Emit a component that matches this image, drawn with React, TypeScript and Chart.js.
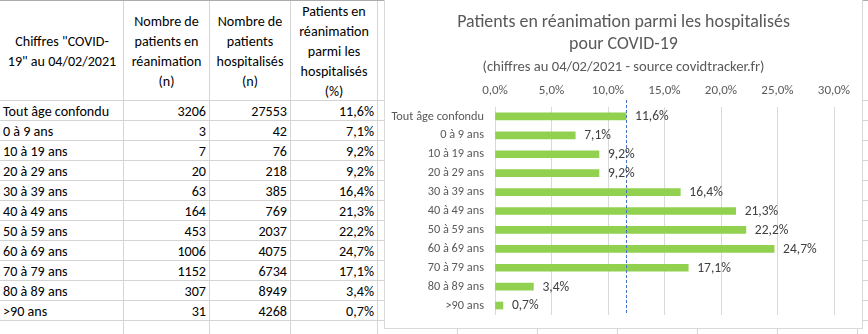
import React, { useEffect, useRef } from "react";
import { Chart, registerables } from "chart.js";

Chart.register(...registerables);

// ---------- data ----------
const categories = [
  "Tout âge confondu",
  "0 à 9 ans",
  "10 à 19 ans",
  "20 à 29 ans",
  "30 à 39 ans",
  "40 à 49 ans",
  "50 à 59 ans",
  "60 à 69 ans",
  "70 à 79 ans",
  "80 à 89 ans",
  ">90 ans",
];
const reanimation = [3206, 3, 7, 20, 63, 164, 453, 1006, 1152, 307, 31];
const hospitalises = [27553, 42, 76, 218, 385, 769, 2037, 4075, 6734, 8949, 4268];
const percentages = [11.6, 7.1, 9.2, 9.2, 16.4, 21.3, 22.2, 24.7, 17.1, 3.4, 0.7];
const overallPercentage = 11.6;
const xTickValues = [0, 5, 10, 15, 20, 25, 30];

const headerLines = [
  ['Chiffres "COVID-', '19" au 04/02/2021'],
  ["Nombre de", "patients en", "réanimation", "(n)"],
  ["Nombre de", "patients", "hospitalisés", "(n)"],
  ["Patients en", "réanimation", "parmi les", "hospitalisés", "(%)"],
];

const chartTitle = ["Patients en réanimation parmi les hospitalisés", "pour COVID-19"];
const chartSubtitle = "(chiffres au 04/02/2021 - source covidtracker.fr)";

// ---------- helpers ----------
const FONT = "Calibri, Carlito, Lato, 'Open Sans', sans-serif";
const fmtPct = (v: number) => v.toFixed(1).replace(".", ",") + "%";

const colEdges = [0, 123, 209, 290, 377];
const extraCols = [457, 537, 617, 697, 777, 857];
const HEADER_H = 100;
const ROW_H = 20;

function App() {
  const canvasRef = useRef<HTMLCanvasElement | null>(null);

  useEffect(() => {
    document.body.style.margin = "0";
    const canvas = canvasRef.current;
    if (!canvas) return;

    const valueLabels = {
      id: "valueLabels",
      afterDatasetsDraw(chart: any) {
        const ctx = chart.ctx;
        const meta = chart.getDatasetMeta(0);
        ctx.save();
        ctx.font = `13.5px ${FONT}`;
        ctx.fillStyle = "#404040";
        ctx.textAlign = "left";
        ctx.textBaseline = "middle";
        meta.data.forEach((bar: any, i: number) => {
          ctx.fillText(fmtPct(percentages[i]), bar.x + 9, bar.y + 0.5);
        });
        ctx.restore();
      },
    };

    const overallLine = {
      id: "overallLine",
      afterDatasetsDraw(chart: any) {
        const ctx = chart.ctx;
        const x = Math.round(chart.scales.x.getPixelForValue(overallPercentage)) + 0.5;
        const area = chart.chartArea;
        ctx.save();
        ctx.strokeStyle = "#4472c4";
        ctx.lineWidth = 1;
        ctx.setLineDash([3, 2]);
        ctx.beginPath();
        ctx.moveTo(x, area.top - 7);
        ctx.lineTo(x, area.bottom);
        ctx.stroke();
        ctx.restore();
      },
    };

    const chart = new Chart(canvas, {
      type: "bar",
      data: {
        labels: categories,
        datasets: [
          {
            data: percentages,
            backgroundColor: "#92d050",
            borderWidth: 0,
            barThickness: 7,
          },
        ],
      },
      options: {
        indexAxis: "y",
        responsive: false,
        animation: false,
        layout: { padding: { left: 0, right: 0, top: 0, bottom: 13 } },
        plugins: {
          legend: { display: false },
          tooltip: { enabled: false },
          title: {
            display: true,
            text: chartTitle,
            color: "#595959",
            font: { family: FONT, size: 17.9, weight: "normal", lineHeight: "22px" },
            padding: { top: 12, bottom: 0 },
          },
          subtitle: {
            display: true,
            text: chartSubtitle,
            color: "#595959",
            font: { family: FONT, size: 14.6, weight: "normal", lineHeight: "16px" },
            padding: { top: 3, bottom: 0 },
          },
        },
        scales: {
          x: {
            position: "top",
            min: 0,
            max: 30,
            afterBuildTicks(scale: any) {
              scale.ticks = xTickValues.map((v) => ({ value: v }));
            },
            ticks: {
              color: "#595959",
              font: { family: FONT, size: 13, lineHeight: "14px" },
              padding: 9,
              maxRotation: 0,
              callback: (v: any) => fmtPct(Number(v)),
            },
            grid: { color: "#d9d9d9", drawTicks: false },
            border: { display: false },
          },
          y: {
            afterFit(scale: any) {
              scale.width = 110;
              scale.paddingTop = 0;
              scale.paddingBottom = 0;
            },
            ticks: {
              color: "#595959",
              font: { family: FONT, size: 12.3 },
              padding: 11,
              autoSkip: false,
            },
            grid: { display: false, drawTicks: false },
            border: { display: false },
          },
          yRightSpace: {
            type: "category",
            position: "right",
            axis: "y",
            labels: categories,
            afterFit(scale: any) {
              scale.width = 28;
              scale.paddingTop = 0;
              scale.paddingBottom = 0;
            },
            ticks: { display: false },
            grid: { display: false, drawTicks: false },
            border: { display: false },
          },
        },
      },
      plugins: [overallLine, valueLabels],
    } as any);

    return () => chart.destroy();
  }, []);

  const cellText: React.CSSProperties = {
    position: "absolute",
    fontFamily: FONT,
    fontSize: "14.1px",
    color: "#000",
    lineHeight: "20px",
    whiteSpace: "nowrap",
  };

  const gridColor = "#d4d4d4";

  return (
    <div
      style={{
        position: "fixed",
        left: 0,
        top: 0,
        width: 868,
        height: 334,
        background: "#fff",
        overflow: "hidden",
      }}
    >
      {/* spreadsheet gridlines */}
      {[...colEdges.slice(1), ...extraCols].map((x) => (
        <div
          key={"v" + x}
          style={{ position: "absolute", left: x, top: 0, width: 1, height: 334, background: gridColor }}
        />
      ))}
      {Array.from({ length: categories.length + 2 }, (_, i) => HEADER_H + i * ROW_H).map((y) => (
        <div
          key={"h" + y}
          style={{ position: "absolute", left: 0, top: y, width: 868, height: 1, background: gridColor }}
        />
      ))}
      <div style={{ position: "absolute", left: 0, top: 0, width: 868, height: 1, background: "#ababab" }} />
      <div style={{ position: "absolute", left: 697, top: 0, width: 80, height: 1, background: "#217346" }} />

      {/* header */}
      {headerLines.map((lines, c) => (
        <div
          key={"hd" + c}
          style={{
            ...cellText,
            left: colEdges[c] + 1,
            top: 2,
            width: colEdges[c + 1] - colEdges[c] - 1,
            height: HEADER_H,
            display: "flex",
            flexDirection: "column",
            justifyContent: "center",
            alignItems: "center",
            textAlign: "center",
          }}
        >
          {lines.map((l, k) => (
            <div key={k}>{l}</div>
          ))}
        </div>
      ))}

      {/* rows */}
      {categories.map((cat, r) => {
        const top = HEADER_H + r * ROW_H + 2;
        const cells = [cat, String(reanimation[r]), String(hospitalises[r]), fmtPct(percentages[r])];
        return cells.map((txt, c) => (
          <div
            key={"c" + r + "-" + c}
            style={{
              ...cellText,
              left: colEdges[c] + (c === 0 ? 3 : 1),
              top,
              width: colEdges[c + 1] - colEdges[c] - (c === 0 ? 3 : 4),
              textAlign: c === 0 ? "left" : "right",
            }}
          >
            {txt}
          </div>
        ));
      })}

      {/* chart box */}
      <div
        style={{
          position: "absolute",
          left: 384,
          top: -1,
          width: 477,
          height: 328,
          border: "1px solid #d9d9d9",
          background: "#fff",
        }}
      />
      <canvas
        ref={canvasRef}
        width={477}
        height={328}
        style={{ position: "absolute", left: 385, top: 0, width: 477, height: 328 }}
      />
    </div>
  );
}

export default App;
